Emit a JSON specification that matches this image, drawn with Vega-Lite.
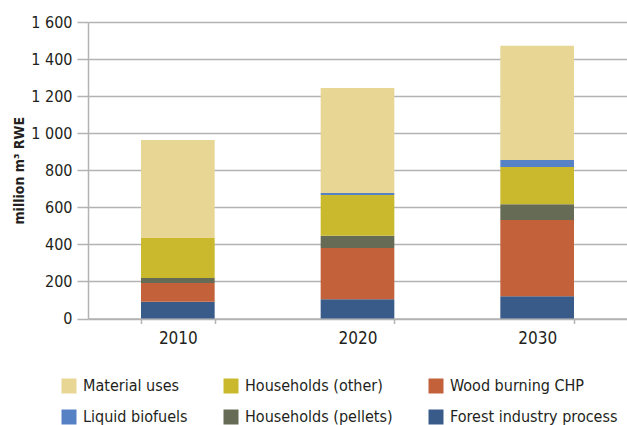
{
  "$schema": "https://vega.github.io/schema/vega-lite/v6.json",
  "width": 539,
  "height": 296.5,
  "autosize": {"type": "none"},
  "padding": {"left": 88, "top": 22, "right": 0, "bottom": 106.5},
  "background": "white",
  "config": {
    "view": {"stroke": null},
    "font": "Liberation Sans Narrow, DejaVu Sans Condensed, sans-serif"
  },
  "data": {
    "values": [
      {"year": "2010", "use": "Forest industry process", "value": 90},
      {"year": "2010", "use": "Wood burning CHP", "value": 101},
      {"year": "2010", "use": "Households (pellets)", "value": 28},
      {"year": "2010", "use": "Households (other)", "value": 216},
      {"year": "2010", "use": "Liquid biofuels", "value": 0},
      {"year": "2010", "use": "Material uses", "value": 528},
      {"year": "2020", "use": "Forest industry process", "value": 104},
      {"year": "2020", "use": "Wood burning CHP", "value": 277},
      {"year": "2020", "use": "Households (pellets)", "value": 65},
      {"year": "2020", "use": "Households (other)", "value": 220},
      {"year": "2020", "use": "Liquid biofuels", "value": 11},
      {"year": "2020", "use": "Material uses", "value": 567},
      {"year": "2030", "use": "Forest industry process", "value": 120},
      {"year": "2030", "use": "Wood burning CHP", "value": 411},
      {"year": "2030", "use": "Households (pellets)", "value": 86},
      {"year": "2030", "use": "Households (other)", "value": 200},
      {"year": "2030", "use": "Liquid biofuels", "value": 38},
      {"year": "2030", "use": "Material uses", "value": 617}
    ]
  },
  "transform": [
    {"calculate": "datum.use == 'Forest industry process' ? 0 : datum.use == 'Wood burning CHP' ? 1 : datum.use == 'Households (pellets)' ? 2 : datum.use == 'Households (other)' ? 3 : datum.use == 'Liquid biofuels' ? 4 : 5", "as": "stackRank"}
  ],
  "mark": {"type": "bar"},
  "encoding": {
    "x": {
      "field": "year",
      "type": "nominal",
      "scale": {"paddingInner": 0.59, "paddingOuter": 0.295},
      "axis": {
        "title": null,
        "labelAngle": 0,
        "labelFontSize": 17,
        "labelColor": "#231F20",
        "labelPadding": 7,
        "tickBand": "extent",
        "tickSize": 5,
        "tickColor": "#B3B3B3",
        "tickWidth": 1.5,
        "domainColor": "#B3B3B3",
        "domainWidth": 1.5
      }
    },
    "y": {
      "field": "value",
      "type": "quantitative",
      "stack": "zero",
      "scale": {"domain": [0, 1600]},
      "axis": {
        "title": "million m³ RWE",
        "titleFontSize": 14,
        "titleFontWeight": "bold",
        "titleColor": "#231F20",
        "titlePadding": 4,
        "values": [0, 200, 400, 600, 800, 1000, 1200, 1400, 1600],
        "labelExpr": "replace(format(datum.value, ','), ',', ' ')",
        "labelFontSize": 16,
        "labelColor": "#231F20",
        "labelPadding": 5,
        "tickSize": 11,
        "tickColor": "#B3B3B3",
        "tickWidth": 1.5,
        "domainColor": "#B3B3B3",
        "domainWidth": 1.5,
        "grid": true,
        "gridColor": "#B3B3B3",
        "gridWidth": 1.5
      }
    },
    "color": {
      "field": "use",
      "type": "nominal",
      "scale": {
        "domain": ["Material uses", "Households (other)", "Wood burning CHP", "Liquid biofuels", "Households (pellets)", "Forest industry process"],
        "range": ["#E7D694", "#CAB92D", "#C3623A", "#5681C4", "#666B55", "#395B8A"]
      },
      "legend": {
        "title": null,
        "orient": "none",
        "legendX": -27,
        "legendY": 356,
        "direction": "horizontal",
        "columns": 3,
        "columnPadding": 35,
        "rowPadding": 15,
        "symbolType": "square",
        "symbolSize": 225,
        "symbolStrokeWidth": 0,
        "symbolOpacity": 1,
        "labelFontSize": 16,
        "labelColor": "#231F20",
        "labelOffset": 6,
        "labelLimit": 300
      }
    },
    "order": {"field": "stackRank", "type": "quantitative", "sort": "ascending"}
  }
}
